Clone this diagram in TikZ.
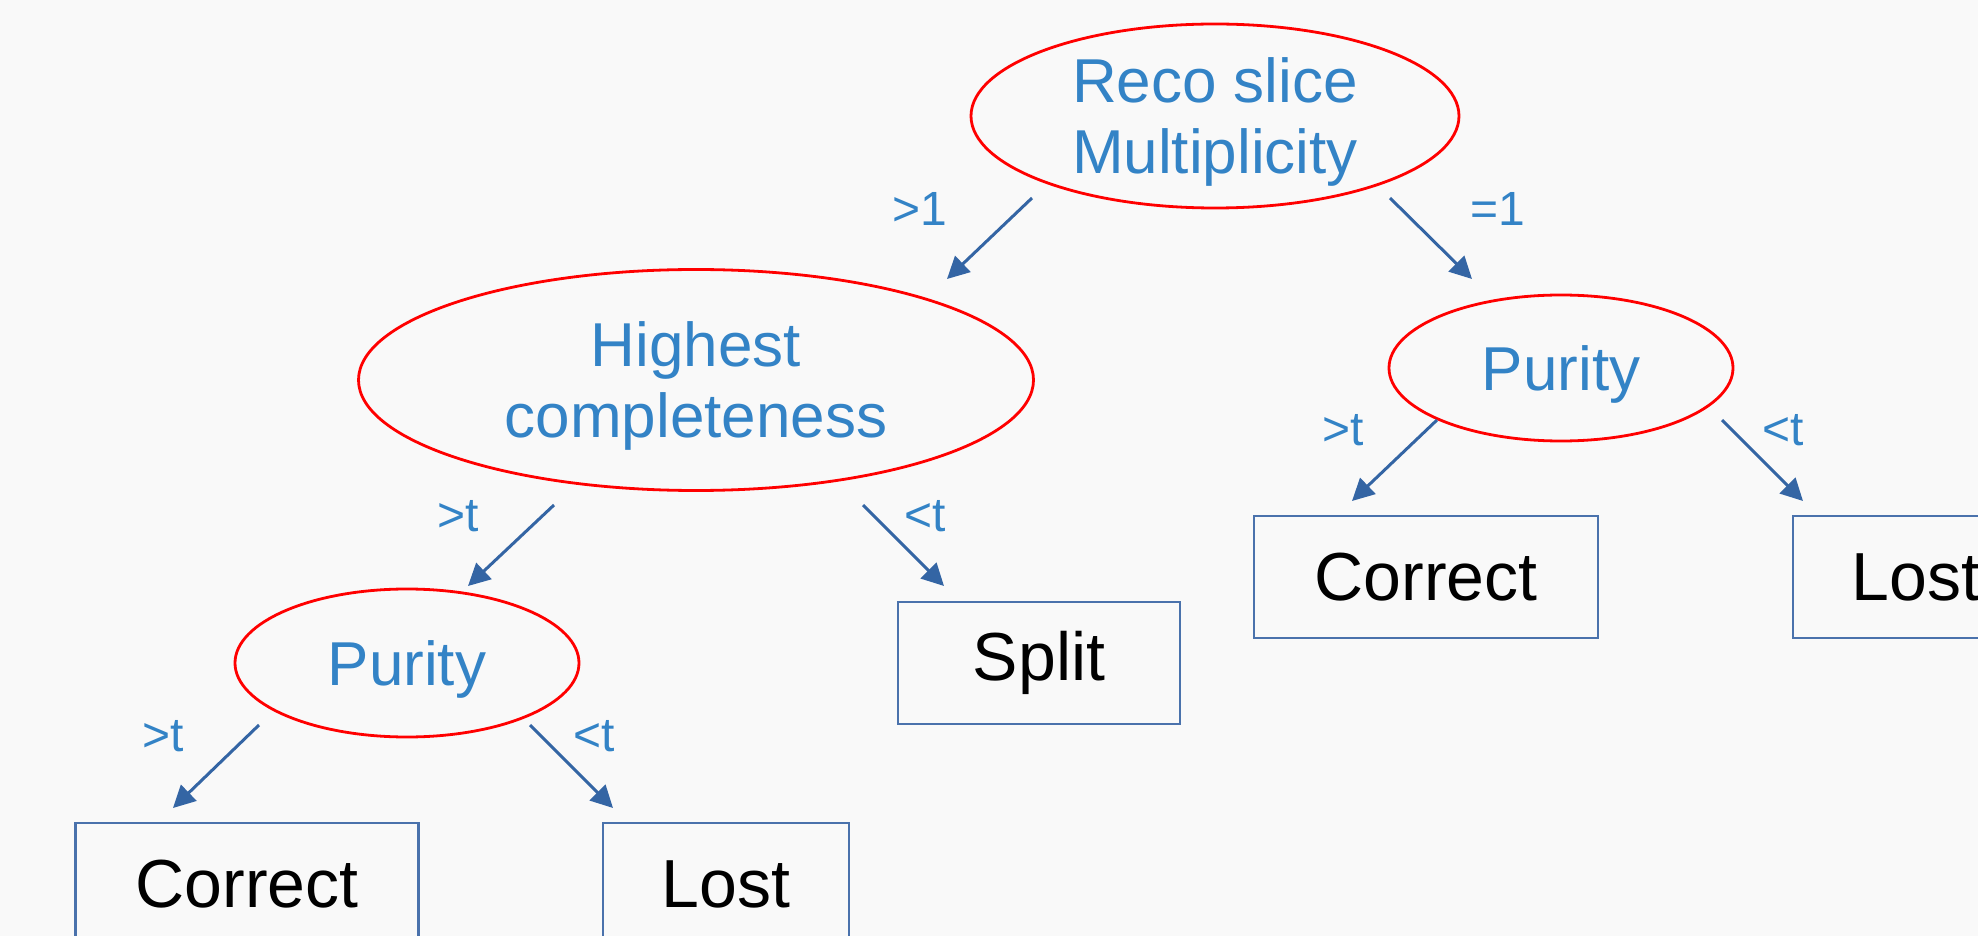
\documentclass[tikz,border=0pt]{standalone}
\usepackage{fontspec}
\setmainfont{Liberation Sans}
\usepackage{tikz}
\usepackage{xcolor}
\usetikzlibrary{positioning,shapes.geometric,arrows.meta}

\definecolor{bgcol}{HTML}{F9F9F9}
\definecolor{txtblue}{HTML}{3383C6}
\definecolor{arrblue}{HTML}{3465A4}
\definecolor{boxblue}{HTML}{4A72AC}

\begin{document}
\begin{tikzpicture}[x=0.5pt,y=-0.5pt]
\tikzstyle{test}=[draw=red,line width=1.4pt,shape=ellipse,inner sep=0pt,text depth=0pt,text=txtblue,align=center,font=\fontsize{31}{35.5}\selectfont];
\tikzstyle{leaf}=[draw=boxblue,line width=1.3pt,shape=rectangle,inner sep=0pt,minimum height=61pt,font=\fontsize{34}{40}\selectfont];
\tikzstyle{cut}=[text=txtblue,inner sep=0pt,font=\fontsize{24}{28}\selectfont];
\tikzstyle{arr}=[draw=arrblue,line width=1.5pt,-{Triangle[length=11pt,width=11pt]}];

\fill[bgcol] (0,0) rectangle (1978,936);
\useasboundingbox (0,0) rectangle (1978,936);
\clip (0,0) rectangle (1978,936);

% decision nodes
\node[test,minimum width=244pt,minimum height=92pt] (reco) at (1215,116) {Reco slice\\Multiplicity};
\node[test,minimum width=337.5pt,minimum height=110.5pt] (hc) at (696,380) {Highest\\completeness};
\node[test,minimum width=172pt,minimum height=73pt] (purR) at (1561,368) {Purity};
\node[test,minimum width=172pt,minimum height=74pt] (purL) at (407,663) {Purity};

% outcomes
\node[leaf,minimum width=172pt] (corR) at (1426,577) {Correct};
\node[leaf,minimum width=123pt] (lostR) at (1916,577) {Lost};
\node[leaf,minimum width=141pt] (split) at (1039,663) {Split};
\node[leaf,minimum width=171.5pt] (corL) at (247,884) {Correct};
\node[leaf,minimum width=123pt] (lostL) at (726,884) {Lost};

% arrow ends
\coordinate (r1) at (1032,198); \coordinate (r1e) at (947,279);
\coordinate (r2) at (1390,198); \coordinate (r2e) at (1472,279);
\coordinate (h1) at (554,505);  \coordinate (h1e) at (468,586);
\coordinate (h2) at (863,505);  \coordinate (h2e) at (944,586);
\coordinate (p1) at (1437,420); \coordinate (p1e) at (1352,501);
\coordinate (p2) at (1722,420); \coordinate (p2e) at (1803,501);
\coordinate (q1) at (259,725);  \coordinate (q1e) at (173,808);
\coordinate (q2) at (530,725);  \coordinate (q2e) at (613,808);
\foreach \a in {r1,r2,h1,h2,p1,p2,q1,q2}
  \draw[arr] (\a) -- (\a e);

% cut labels
\node[cut] (lr1) at (920,209) {>1};
\node[cut] (lr2) at (1498,209) {=1};
\node[cut] (lh1) at (458,516) {>t};
\node[cut] (lh2) at (925,516) {<t};
\node[cut] (lp1) at (1343,430) {>t};
\node[cut] (lp2) at (1783,430) {<t};
\node[cut] (lq1) at (163,736) {>t};
\node[cut] (lq2) at (594,736) {<t};
\end{tikzpicture}
\end{document}
